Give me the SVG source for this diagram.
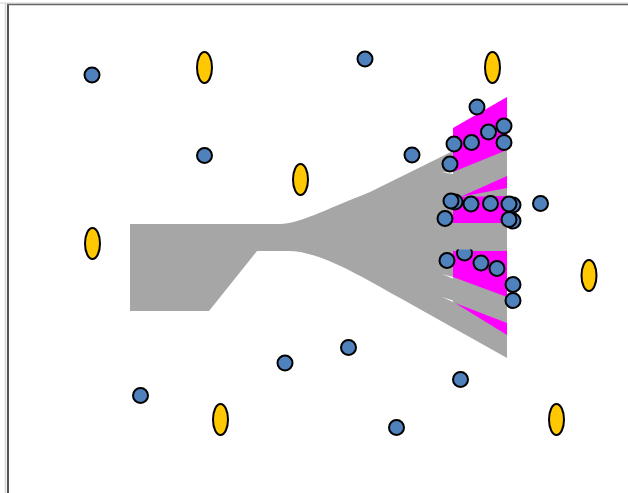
<svg xmlns="http://www.w3.org/2000/svg" width="628" height="493" viewBox="0 0 628 493">
<style>
.b{fill:#4F81BD;stroke:#000;stroke-width:2}
.y{fill:#FFC800;stroke:#000;stroke-width:2}
.g{fill:#A6A6A6}
.p{fill:#FF00FF}
</style>
<defs>
<clipPath id="cl"><rect x="440" y="249.5" width="60" height="30"/></clipPath>
</defs>
<rect x="0" y="0" width="628" height="493" fill="#fff"/>
<line x1="5.5" y1="3" x2="5.5" y2="493" stroke="#d4d4d4" stroke-width="1.5"/>
<line x1="0" y1="3" x2="628" y2="3" stroke="#d4d4d4" stroke-width="1"/>
<line x1="8" y1="4" x2="8" y2="493" stroke="#555" stroke-width="2"/>
<line x1="7" y1="4.5" x2="628" y2="4.5" stroke="#666" stroke-width="1.5"/>
<g id="flows">
<path class="g" d="M130 224 L280 224 C300 223 320 212 370 192 L453 151 L507 124 L507 358 L400 298 C360 276 320 251 288 251 L257 251 L209 311 L130 311 Z"/>
<polygon class="p" points="453,128 507,97 507,150 453,172"/>
<polygon class="p" points="460,197 507,176 507,188"/>
<polygon class="p" points="453,197 507,196 507,223 453,223"/>
<polygon class="p" points="453,251 507,251 507,297 453,277"/>
<polygon class="p" points="455,303 507,323 507,335"/>
<polygon fill="#fff" points="442,172.5 453,172 453,174"/>
<polygon fill="#fff" points="442,274 453,277 453,278.5"/>
<polygon fill="#fff" points="442,297 453,300.5 453,302"/>
</g>
<g id="n21"><circle class="b" cx="464.5" cy="253" r="7.5" clip-path="url(#cl)"/></g>
<g id="n1"><circle class="b" cx="92" cy="75" r="7.5"/></g>
<g id="n2"><circle class="b" cx="365" cy="59" r="7.5"/></g>
<g id="n3"><circle class="b" cx="204.5" cy="155.5" r="7.5"/></g>
<g id="n4"><circle class="b" cx="412" cy="155" r="7.5"/></g>
<g id="n5"><circle class="b" cx="477" cy="107" r="7.5"/></g>
<g id="n6"><circle class="b" cx="488.5" cy="132" r="7.5"/></g>
<g id="n7"><circle class="b" cx="504" cy="126" r="7.5"/></g>
<g id="n8"><circle class="b" cx="471.5" cy="142.5" r="7.5"/></g>
<g id="n9"><circle class="b" cx="454" cy="144" r="7.5"/></g>
<g id="n10"><circle class="b" cx="504" cy="142.5" r="7.5"/></g>
<g id="n11"><circle class="b" cx="450" cy="164" r="7.5"/></g>
<g id="n12"><circle class="b" cx="455" cy="202" r="7.5"/></g>
<g id="n13"><circle class="b" cx="451" cy="201" r="7.5"/></g>
<g id="n14"><circle class="b" cx="471" cy="204" r="7.5"/></g>
<g id="n15"><circle class="b" cx="490.5" cy="203.5" r="7.5"/></g>
<g id="n16"><circle class="b" cx="513" cy="205" r="7.5"/></g>
<g id="n17"><circle class="b" cx="509" cy="204" r="7.5"/></g>
<g id="n18"><circle class="b" cx="540.5" cy="203.5" r="7.5"/></g>
<g id="n19"><circle class="b" cx="445" cy="218.5" r="7.5"/></g>
<g id="n20"><circle class="b" cx="513" cy="221" r="7.5"/></g>
<g id="n20b"><circle class="b" cx="509" cy="219.5" r="7.5"/></g>
<g id="n22"><circle class="b" cx="447" cy="260.5" r="7.5"/></g>
<g id="n23"><circle class="b" cx="481" cy="263" r="7.5"/></g>
<g id="n24"><circle class="b" cx="497" cy="268.5" r="7.5"/></g>
<g id="n25"><circle class="b" cx="513" cy="284.5" r="7.5"/></g>
<g id="n26"><circle class="b" cx="513" cy="300.5" r="7.5"/></g>
<g id="n27"><circle class="b" cx="285" cy="363" r="7.5"/></g>
<g id="n28"><circle class="b" cx="348.5" cy="347.5" r="7.5"/></g>
<g id="n29"><circle class="b" cx="140.5" cy="395.5" r="7.5"/></g>
<g id="n30"><circle class="b" cx="460.5" cy="379.5" r="7.5"/></g>
<g id="n31"><circle class="b" cx="396.5" cy="427.5" r="7.5"/></g>
<g id="e1"><ellipse class="y" cx="204.5" cy="67.5" rx="7.5" ry="15.5"/></g>
<g id="e2"><ellipse class="y" cx="492.5" cy="67.5" rx="7.5" ry="15.5"/></g>
<g id="e3"><ellipse class="y" cx="300.5" cy="179.5" rx="7.5" ry="15.5"/></g>
<g id="e4"><ellipse class="y" cx="92.5" cy="243.5" rx="7.5" ry="15.5"/></g>
<g id="e5"><ellipse class="y" cx="589" cy="275.5" rx="7.5" ry="15.5"/></g>
<g id="e6"><ellipse class="y" cx="220.5" cy="419.5" rx="7.5" ry="15.5"/></g>
<g id="e7"><ellipse class="y" cx="556.5" cy="419.5" rx="7.5" ry="15.5"/></g>
</svg>
